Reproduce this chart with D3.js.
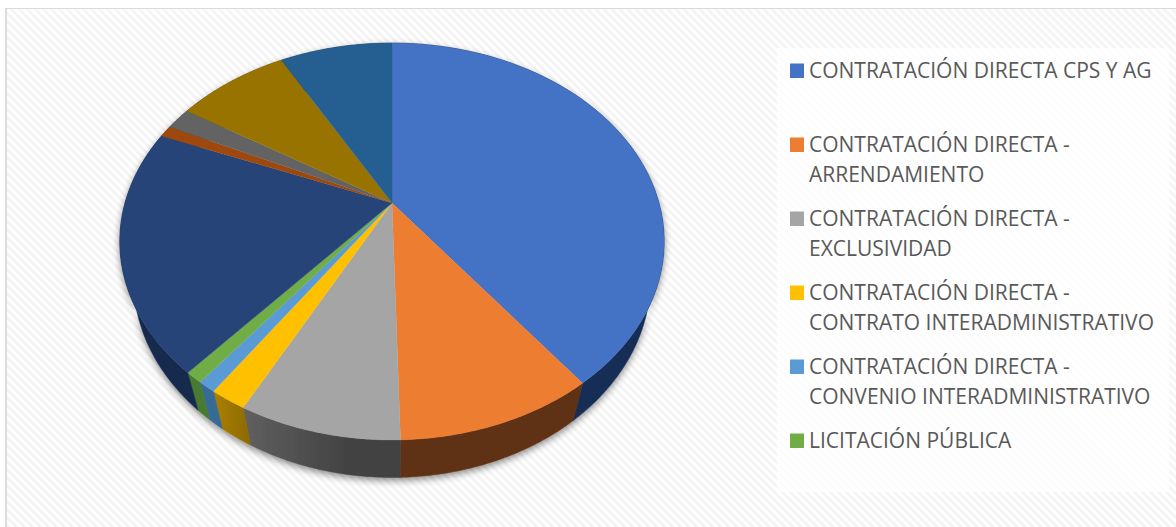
<!DOCTYPE html>
<html>
<head>
<meta charset="utf-8">
<script src="https://d3js.org/d3.v7.min.js"></script>
<style>
  html, body { margin: 0; padding: 0; background: #fff; overflow: hidden; }
  svg { display: block; }
</style>
</head>
<body>
<svg id="drawing_region" width="1176" height="527"></svg>
<script>
// shares, clockwise from 12 o'clock
const values = [39.7, 9.9, 8.05, 1.85, 0.92, 0.9, 19.85, 0.94, 1.83, 8.03, 8.05];
const topColors = ['#4472c4', '#ed7d31', '#a5a5a5', '#ffc000', '#5b9bd5', '#70ad47', '#264478', '#9e480e', '#636363', '#997300', '#255e91'];
const wallColors = ['#182d54', '#5f3214', 'url(#wallGray)', 'url(#wallGold)', '#386a96', '#4a7a30', '#172a4e', '#5f2c08', '#3c3c3c', '#5c4500', '#163857'];
const legendRows = [
    ['CONTRATACIÓN DIRECTA CPS Y AG'],
    ['CONTRATACIÓN DIRECTA -', 'ARRENDAMIENTO'],
    ['CONTRATACIÓN DIRECTA -', 'EXCLUSIVIDAD'],
    ['CONTRATACIÓN DIRECTA -', 'CONTRATO INTERADMINISTRATIVO'],
    ['CONTRATACIÓN DIRECTA -', 'CONVENIO INTERADMINISTRATIVO'],
    ['LICITACIÓN PÚBLICA']
];
const legendTop = [70, 144, 218, 292, 366, 440];

const svg = d3.select('#drawing_region');
const defs = svg.append('defs');

// hatched chart background
const hatch = defs.append('pattern')
    .attr('id', 'hatch')
    .attr('patternUnits', 'userSpaceOnUse')
    .attr('width', 5.66).attr('height', 5.66)
    .attr('patternTransform', 'rotate(-45)');
hatch.append('rect').attr('width', 5.66).attr('height', 5.66).attr('fill', '#ffffff');
hatch.append('rect').attr('width', 2.83).attr('height', 5.66).attr('fill', '#f4f4f4');

const shadow = defs.append('filter')
    .attr('id', 'shadow')
    .attr('x', '-10%').attr('y', '-10%').attr('width', '120%').attr('height', '120%');
shadow.append('feDropShadow')
    .attr('dx', 0).attr('dy', 3).attr('stdDeviation', 3.5)
    .attr('flood-color', '#000').attr('flood-opacity', 0.45);

function wallGradient(id, x1, x2, from, to) {
    const g = defs.append('linearGradient')
        .attr('id', id)
        .attr('gradientUnits', 'userSpaceOnUse')
        .attr('x1', x1).attr('x2', x2).attr('y1', 0).attr('y2', 0);
    g.append('stop').attr('offset', 0).attr('stop-color', from);
    g.append('stop').attr('offset', 1).attr('stop-color', to);
}
wallGradient('wallGray', 250, 345, '#5e5e5e', '#434343');
wallGradient('wallGold', 218, 250, '#a87d00', '#8c6a00');

svg.append('rect').attr('width', 1176).attr('height', 527).attr('fill', '#fff');
svg.append('rect')
    .attr('x', 6).attr('y', 8).attr('width', 1170).attr('height', 519)
    .attr('fill', 'url(#hatch)');
svg.append('rect').attr('x', 6).attr('y', 8).attr('width', 1170).attr('height', 1).attr('fill', '#d9d9d9');
svg.append('rect').attr('x', 5).attr('y', 8).attr('width', 2).attr('height', 519).attr('fill', '#dddddd');

// tilted pie: the disc is seen in perspective, so its centre sits above the ellipse centre
const apex = {x: 392, y: 203};
const a = 267, b = 191, k = 0.194;
const wallScale = 0.95, wallDrop = 37.5;

function topPoint(t) {
    const u = Math.sin(t), v = Math.cos(t), w = 1 + k * v;
    return [apex.x + a * u / w, apex.y - b * v / w];
}
function bottomPoint(t) {
    const p = topPoint(t);
    return [apex.x + (p[0] - apex.x) * wallScale, p[1] + wallDrop];
}

const slices = d3.pie().sort(null)(values);
const line = d3.line();
const arcAngles = d => d3.range(0, 61).map(i => d.startAngle + (d.endAngle - d.startAngle) * i / 60);

const walls = svg.append('g').attr('filter', 'url(#shadow)');
walls.selectAll('path')
    .data(slices)
    .enter()
    .append('path')
    .attr('d', d => {
        const ts = arcAngles(d);
        return line(ts.map(topPoint).concat(ts.slice().reverse().map(bottomPoint))) + 'Z';
    })
    .attr('fill', (d, i) => wallColors[i])
    .attr('stroke', (d, i) => wallColors[i])
    .attr('stroke-width', 0.5);

svg.append('g').selectAll('path')
    .data(slices)
    .enter()
    .append('path')
    .attr('d', d => line([[apex.x, apex.y]].concat(arcAngles(d).map(topPoint))) + 'Z')
    .attr('fill', (d, i) => topColors[i])
    .attr('stroke', (d, i) => topColors[i])
    .attr('stroke-width', 0.3);

// legend
svg.append('rect')
    .attr('x', 777).attr('y', 48).attr('width', 392).attr('height', 444)
    .attr('fill', '#fff')
    .attr('fill-opacity', 0.75);

const legend = svg.append('g').selectAll('g')
    .data(legendRows)
    .enter()
    .append('g')
    .attr('transform', (d, i) => `translate(790, ${legendTop[i]})`);

legend.append('rect')
    .attr('y', -6.5).attr('width', 14).attr('height', 14.5)
    .attr('fill', (d, i) => topColors[i]);

legend.selectAll('text')
    .data(d => d)
    .enter()
    .append('text')
    .attr('x', 19)
    .attr('y', (d, i) => 8 + i * 30)
    .attr('font-family', '"Open Sans", sans-serif')
    .attr('font-size', 21)
    .attr('fill', '#595959')
    .text(d => d);
</script>
</body>
</html>
